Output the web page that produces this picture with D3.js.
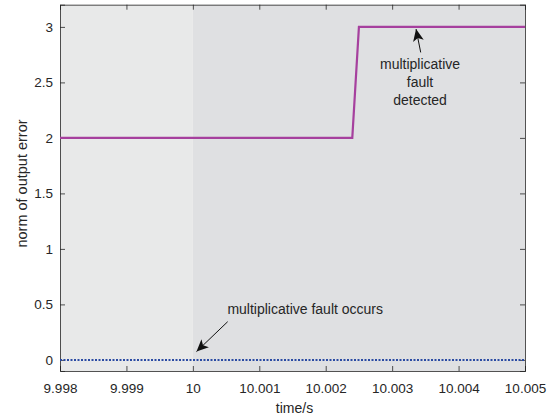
<!DOCTYPE html>
<html>
<head>
<meta charset="utf-8">
<script src="https://cdn.jsdelivr.net/npm/d3@7"></script>
<style>
  body { margin: 0; background: #fff; }
  svg text { font-family: "Liberation Sans", Arial, Helvetica, sans-serif; fill: #262626; }
</style>
</head>
<body>
<div class="chart"></div>
<script>
// detection signal (norm of output error)
var detTime = [9.998, 10.0024, 10.0025, 10.005];
var detNorm = [2, 2, 3, 3];
// fault signal
var faultTime = [9.998, 10.005];
var faultVal = [0, 0];

var xTicks = [9.998, 9.999, 10, 10.001, 10.002, 10.003, 10.004, 10.005];
var yTicks = [0, 0.5, 1, 1.5, 2, 2.5, 3];
var faultStart = 10;

var svgWidth = 550, svgHeight = 418;
var margin = {top: 4.7, right: 25, bottom: 47, left: 60};
var width = svgWidth - margin.left - margin.right;
var height = svgHeight - margin.top - margin.bottom;

var svg = d3.select(".chart").append("svg")
  .attr("width", svgWidth)
  .attr("height", svgHeight);

var chart = svg.append("g")
  .attr("transform", "translate(" + margin.left + "," + margin.top + ")");

var x = d3.scaleLinear().domain([9.998, 10.005]).range([0, width]);
var y = d3.scaleLinear().domain([-0.1, 3.2]).range([height, 0]);

// background shading
chart.append("rect")
  .attr("x", 0).attr("y", 0)
  .attr("width", x(faultStart)).attr("height", height)
  .attr("fill", "#e8e9e9");
chart.append("rect")
  .attr("x", x(faultStart)).attr("y", 0)
  .attr("width", width - x(faultStart)).attr("height", height)
  .attr("fill", "#dfe0e2");

// axes with inward ticks on all sides
var fmtX = function(d) { return d3.format("")(+d.toFixed(3)); };
chart.append("g")
  .attr("class", "axis")
  .attr("transform", "translate(0," + height + ")")
  .call(d3.axisBottom(x).tickValues(xTicks).tickSize(-5).tickPadding(12).tickFormat(fmtX));
chart.append("g")
  .attr("class", "axis")
  .call(d3.axisTop(x).tickValues(xTicks).tickSize(-5).tickFormat(""));
chart.append("g")
  .attr("class", "axis")
  .call(d3.axisLeft(y).tickValues(yTicks).tickSize(-5).tickPadding(7).tickFormat(d3.format("")));
chart.append("g")
  .attr("class", "axis")
  .attr("transform", "translate(" + width + ",0)")
  .call(d3.axisRight(y).tickValues(yTicks).tickSize(-5).tickFormat(""));

chart.selectAll(".axis path").attr("stroke", "#262626").attr("stroke-width", 0.8);
chart.selectAll(".axis line").attr("stroke", "#262626").attr("stroke-width", 0.8);
chart.selectAll(".axis text").style("font-size", "13.5px").attr("fill", "#262626");

// lines
var lineFault = d3.line()
  .x(function(d, i) { return x(faultTime[i]); })
  .y(function(d) { return y(d); });
chart.append("path")
  .datum(faultVal)
  .attr("d", lineFault)
  .attr("fill", "none")
  .attr("stroke", "#2b4ba3")
  .attr("stroke-width", 2)
  .attr("stroke-dasharray", "2,1.5");

var lineDet = d3.line()
  .x(function(d, i) { return x(detTime[i]); })
  .y(function(d) { return y(d); });
chart.append("path")
  .datum(detNorm)
  .attr("d", lineDet)
  .attr("fill", "none")
  .attr("stroke", "#a6409e")
  .attr("stroke-width", 2.2);

// arrow heads
svg.append("defs").append("marker")
  .attr("id", "head")
  .attr("viewBox", "0 0 10 10")
  .attr("refX", 10).attr("refY", 5)
  .attr("markerWidth", 12).attr("markerHeight", 12)
  .attr("markerUnits", "userSpaceOnUse")
  .attr("orient", "auto")
  .append("path")
  .attr("d", "M0,0.5 L10,5 L0,9.5 L2.5,5 Z")
  .attr("fill", "#111");

// annotation: fault detected
chart.append("line")
  .attr("x1", x(10.00343)).attr("y1", y(2.77))
  .attr("x2", x(10.00336)).attr("y2", y(2.98))
  .attr("stroke", "#111").attr("stroke-width", 1)
  .attr("marker-end", "url(#head)");
var det = chart.append("text")
  .attr("text-anchor", "middle")
  .style("font-size", "14px");
["multiplicative", "fault", "detected"].forEach(function(s, i) {
  det.append("tspan")
    .attr("x", x(10.00342))
    .attr("y", y(2.62) + i * 18)
    .text(s);
});

// annotation: fault occurs
chart.append("line")
  .attr("x1", x(10.000524)).attr("y1", y(0.344))
  .attr("x2", x(10.000055)).attr("y2", y(0.075))
  .attr("stroke", "#111").attr("stroke-width", 1)
  .attr("marker-end", "url(#head)");
chart.append("text")
  .attr("x", x(10.00052))
  .attr("y", y(0.41))
  .style("font-size", "14px")
  .text("multiplicative fault occurs");

// axis labels
svg.append("text")
  .attr("x", margin.left + width / 2 + 2)
  .attr("y", 413)
  .attr("text-anchor", "middle")
  .style("font-size", "14px")
  .text("time/s");
svg.append("text")
  .attr("transform", "translate(27,183.5) rotate(-90)")
  .attr("text-anchor", "middle")
  .style("font-size", "14.5px")
  .text("norm of output error");
</script>
</body>
</html>
